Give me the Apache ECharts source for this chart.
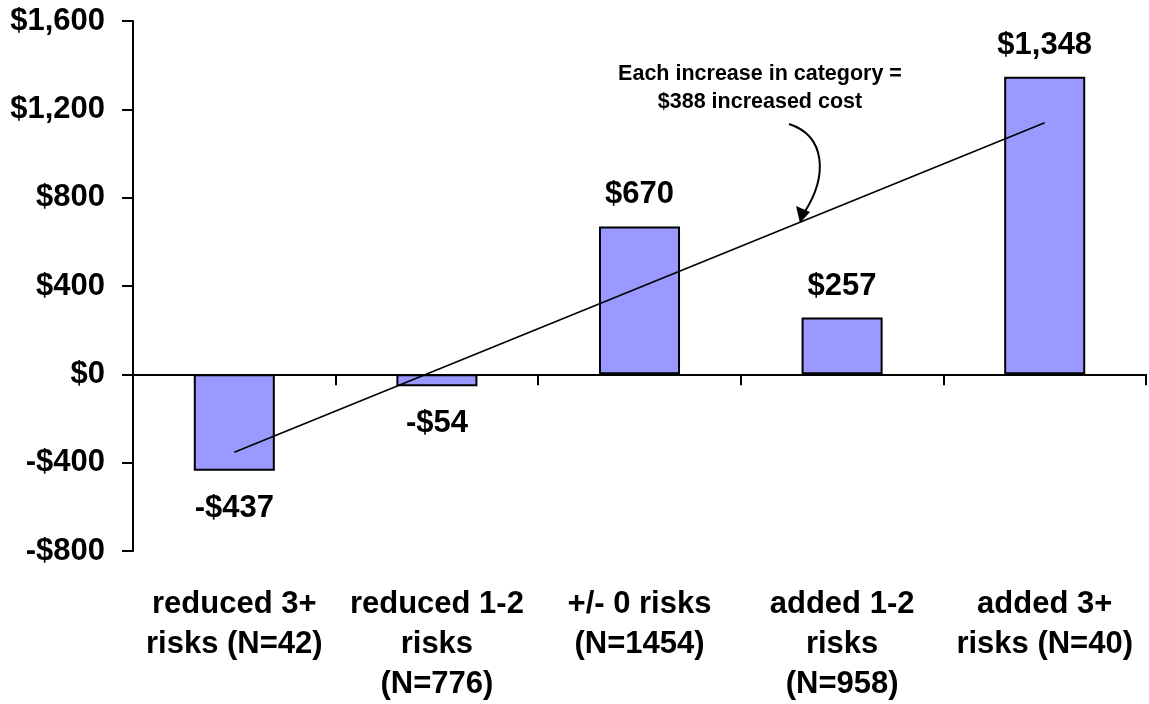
<!DOCTYPE html>
<html>
<head>
<meta charset="utf-8">
<title>Cost change by risk change category</title>
<script src="https://cdn.jsdelivr.net/npm/echarts@6/dist/echarts.min.js"></script>
<style>
  html, body { margin: 0; padding: 0; background: #ffffff; }
  #chart { width: 1149px; height: 704px; }
</style>
</head>
<body>
<div id="chart"></div>
<script>
// Categories of change in health risks over the period
var categories = [
  'reduced 3+\nrisks (N=42)',
  'reduced 1-2\nrisks\n(N=776)',
  '+/- 0 risks\n(N=1454)',
  'added 1-2\nrisks\n(N=958)',
  'added 3+\nrisks (N=40)'
];

// Change in cost per person ($)
var costChange = [-437, -54, 670, 257, 1348];

// Trend line end points (first and last category)
var trendLine = [-353, null, null, null, 1139];

// Value axis ticks
var yMin = -800, yMax = 1600, yStep = 400;

var FONT = "'Liberation Sans', Arial, Helvetica, sans-serif";

function money(v) {
  var s = '$' + Math.abs(v).toLocaleString('en-US');
  return v < 0 ? '-' + s : s;
}

var chart = echarts.init(document.getElementById('chart'), null, { renderer: 'canvas' });

var option = {
  animation: false,
  backgroundColor: '#ffffff',
  grid: { left: 133, right: 3, top: 21, bottom: 145, containLabel: false },
  xAxis: [
    {
      // axis line drawn through zero with boundary ticks
      type: 'category',
      data: categories,
      boundaryGap: true,
      axisLine: { onZero: true, lineStyle: { color: '#000', width: 2 } },
      axisTick: { show: true, length: 11, alignWithLabel: false, lineStyle: { color: '#000', width: 2 } },
      axisLabel: { show: false },
      splitLine: { show: false }
    },
    {
      // category names along the bottom
      type: 'category',
      data: categories,
      position: 'bottom',
      axisLine: { show: false, onZero: false },
      axisTick: { show: false },
      axisLabel: {
        interval: 0,
        margin: 33,
        color: '#000',
        fontFamily: FONT,
        fontWeight: 'bold',
        fontSize: 31,
        lineHeight: 40,
        align: 'center'
      },
      splitLine: { show: false }
    }
  ],
  yAxis: {
    type: 'value',
    min: yMin,
    max: yMax,
    interval: yStep,
    axisLine: { show: true, lineStyle: { color: '#000', width: 2 } },
    axisTick: { show: true, length: 11, lineStyle: { color: '#000', width: 2 } },
    splitLine: { show: false },
    axisLabel: {
      margin: 28,
      color: '#000',
      fontFamily: FONT,
      fontWeight: 'bold',
      fontSize: 31,
      formatter: money
    }
  },
  series: [
    {
      type: 'bar',
      xAxisIndex: 0,
      barWidth: '40%',
      itemStyle: { color: '#9999ff', borderColor: '#000', borderWidth: 2 },
      data: costChange.map(function (v) {
        return {
          value: v,
          label: {
            show: true,
            position: v < 0 ? 'bottom' : 'top',
            distance: v < 0 ? 22 : 16,
            color: '#000',
            fontFamily: FONT,
            fontWeight: 'bold',
            fontSize: 31,
            formatter: function (p) { return money(p.value); }
          }
        };
      }),
      z: 2
    },
    {
      type: 'line',
      xAxisIndex: 0,
      data: trendLine,
      connectNulls: true,
      showSymbol: false,
      symbol: 'none',
      lineStyle: { color: '#000', width: 1.6 },
      z: 3
    }
  ],
  graphic: [
    {
      type: 'text',
      x: 760,
      y: 60,
      style: {
        text: 'Each increase in category =\n$388 increased cost',
        align: 'center',
        verticalAlign: 'top',
        font: "bold 21.5px 'Liberation Sans', Arial, sans-serif",
        lineHeight: 28,
        fill: '#000'
      }
    },
    {
      type: 'bezierCurve',
      shape: { x1: 789, y1: 124, cpx1: 826, cpy1: 136, cpx2: 828, cpy2: 176, x2: 804, y2: 213 },
      style: { stroke: '#000', lineWidth: 2, fill: null }
    },
    {
      type: 'polygon',
      shape: { points: [[800, 223], [796, 206], [810, 212]] },
      style: { fill: '#000' }
    }
  ]
};

chart.setOption(option);
</script>
</body>
</html>
